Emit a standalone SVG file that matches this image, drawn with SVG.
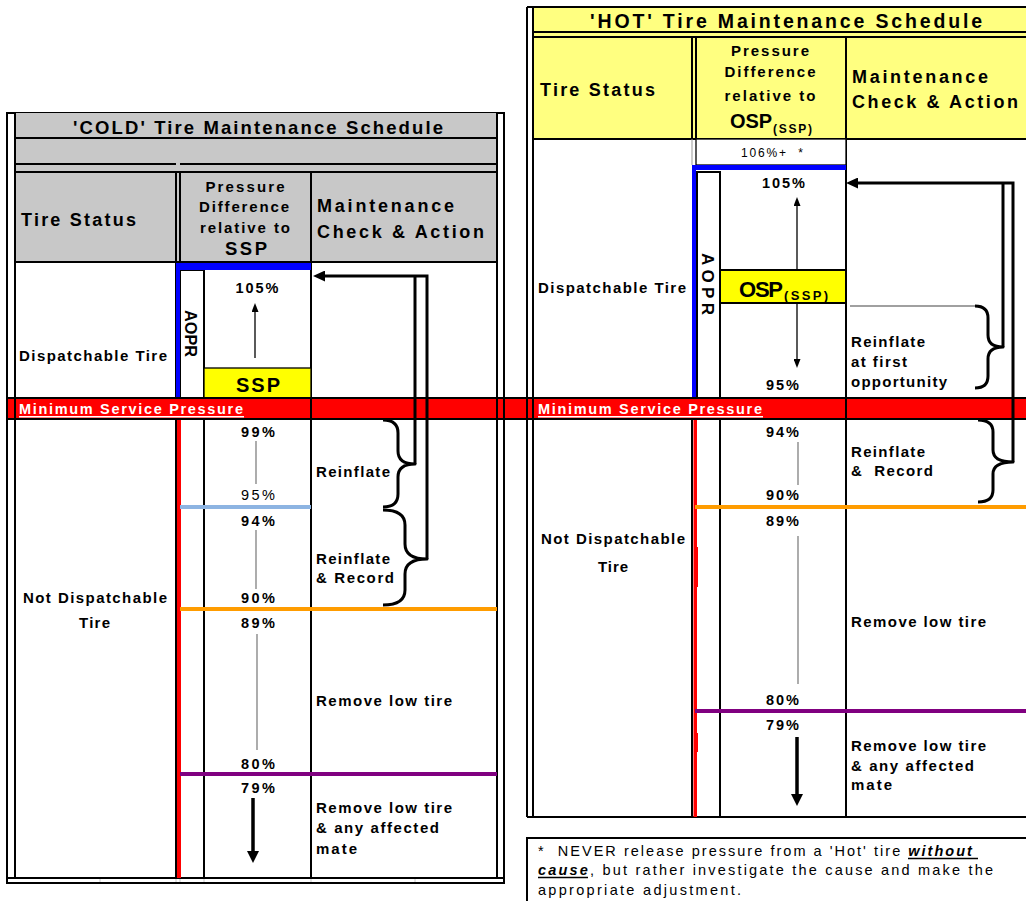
<svg xmlns="http://www.w3.org/2000/svg" width="1026" height="901" viewBox="0 0 1026 901">
<style>
text{font-family:"Liberation Sans",Arial,sans-serif;fill:#000}
.b{font-weight:bold}
.s14{font-size:14.5px}
.lb{font-size:15px;font-weight:bold}
.s17{font-size:18px}
.hp{font-size:15px;font-weight:bold}
.ln{stroke:#000;stroke-width:2}
.thin{stroke:#000;stroke-width:1.3}
.gray{stroke:#808080;stroke-width:1.3;fill:none}
.tick{stroke:#c8c8c8;stroke-width:1;fill:none}
.brace{stroke:#000;stroke-width:3;fill:none;stroke-linejoin:round}
.fb{stroke:#000;stroke-width:3;fill:none}
.ul{stroke:#000;stroke-width:1.4}
.ulw{stroke:#fff;stroke-width:1.6}
.msp{fill:#fff}
</style>
<defs>
<marker id="ahBig" viewBox="0 0 12 11" refX="0" refY="5.5" markerWidth="12" markerHeight="11" markerUnits="userSpaceOnUse" orient="auto"><path d="M0,0 L12,5.5 L0,11 z" fill="#000"/></marker>
<marker id="ahThin" viewBox="0 0 9 7" refX="0" refY="3.5" markerWidth="9" markerHeight="7" markerUnits="userSpaceOnUse" orient="auto"><path d="M0,0 L9,3.5 L0,7 z" fill="#000"/></marker>
<marker id="ahThick" viewBox="0 0 12 12" refX="0" refY="6" markerWidth="12" markerHeight="12" markerUnits="userSpaceOnUse" orient="auto"><path d="M0,0 L12,6 L0,12 z" fill="#000"/></marker>
</defs>
<rect width="1026" height="901" fill="#fff"/>

<!-- COLD table -->
<g id="cold-table">
<rect x="7" y="113" width="497" height="770" fill="#fff" class="ln"/>
<rect x="15" y="113" width="482" height="149" fill="#c8c8c8"/>
<line x1="15" y1="113" x2="15" y2="878" class="ln"/>
<line x1="497" y1="113" x2="497" y2="878" class="ln"/>
<line x1="15" y1="138" x2="497" y2="138" class="ln"/>
<line x1="15" y1="164" x2="176" y2="164" class="ln"/>
<line x1="180" y1="164" x2="497" y2="164" class="ln"/>
<line x1="15" y1="172" x2="497" y2="172" class="ln"/>
<line x1="15" y1="262" x2="497" y2="262" class="ln"/>
<line x1="176" y1="172" x2="176" y2="262" class="ln"/>
<line x1="180" y1="172" x2="180" y2="262" class="ln"/>
<line x1="311" y1="172" x2="311" y2="878" class="ln"/>
<line x1="7" y1="878" x2="504" y2="878" class="ln"/>
<g id="cold-ticks">
<line x1="100" y1="879" x2="100" y2="882" class="tick"/>
<line x1="176" y1="879" x2="176" y2="882" class="tick"/>
<line x1="180" y1="879" x2="180" y2="882" class="tick"/>
<line x1="204" y1="879" x2="204" y2="882" class="tick"/>
<line x1="311" y1="879" x2="311" y2="882" class="tick"/>
<line x1="415" y1="879" x2="415" y2="882" class="tick"/>
</g>
<text x="258" y="134" class="b" font-size="18.5" text-anchor="middle" textLength="370" lengthAdjust="spacing">'COLD' Tire Maintenance Schedule</text>
<text x="21" y="226" class="b s17" textLength="115" lengthAdjust="spacing">Tire Status</text>
<text x="245" y="192" class="hp" text-anchor="middle" textLength="79" lengthAdjust="spacing">Pressure</text>
<text x="244" y="212" class="hp" text-anchor="middle" textLength="90" lengthAdjust="spacing">Difference</text>
<text x="245" y="233" class="hp" text-anchor="middle" textLength="90" lengthAdjust="spacing">relative to</text>
<text x="246" y="255" class="b" font-size="18.5" text-anchor="middle" textLength="42" lengthAdjust="spacing">SSP</text>
<text x="317" y="212" class="b s17" textLength="137" lengthAdjust="spacing">Maintenance</text>
<text x="317" y="238" class="b s17" textLength="167" lengthAdjust="spacing">Check &amp; Action</text>

<g id="cold-dispatchable">
<line x1="176" y1="262" x2="176" y2="878" class="ln"/>
<rect x="180" y="270" width="24" height="128" fill="#fff" class="ln"/>
<line x1="204" y1="398" x2="204" y2="878" class="ln"/>
<rect x="176" y="263" width="135" height="7" fill="#0000ff"/>
<rect x="176" y="263" width="4" height="135" fill="#0000ff"/>
<rect x="204" y="368" width="107" height="30" fill="#ffff00" class="thin"/>
<text x="19" y="361" class="lb" textLength="148" lengthAdjust="spacing">Dispatchable Tire</text>
<text transform="translate(185,310) rotate(90)" class="b" font-size="17" textLength="47" lengthAdjust="spacingAndGlyphs">AOPR</text>
<text x="257" y="293" class="b s14" text-anchor="middle" textLength="43" lengthAdjust="spacing">105%</text>
<text x="258" y="392" class="b" font-size="20" text-anchor="middle" textLength="44" lengthAdjust="spacing">SSP</text>
</g>

<g id="cold-not-dispatchable">
<rect x="177" y="419" width="4" height="459" fill="#ff0000"/>
<line x1="256" y1="441" x2="256" y2="484" class="gray"/>
<line x1="256" y1="530" x2="256" y2="589" class="gray"/>
<line x1="257" y1="634" x2="257" y2="750" class="gray"/>
<line x1="180" y1="507" x2="311" y2="507" stroke="#8db4e2" stroke-width="4"/>
<line x1="180" y1="609" x2="497" y2="609" stroke="#ff9c00" stroke-width="4"/>
<line x1="180" y1="774" x2="497" y2="774" stroke="#800080" stroke-width="4"/>
<text x="258" y="437" class="b s14" text-anchor="middle" textLength="34" lengthAdjust="spacing">99%</text>
<text x="258" y="500" class="s14" text-anchor="middle" textLength="34" lengthAdjust="spacing">95%</text>
<text x="258" y="526" class="b s14" text-anchor="middle" textLength="34" lengthAdjust="spacing">94%</text>
<text x="258" y="603" class="b s14" text-anchor="middle" textLength="34" lengthAdjust="spacing">90%</text>
<text x="258" y="628" class="b s14" text-anchor="middle" textLength="34" lengthAdjust="spacing">89%</text>
<text x="258" y="769" class="b s14" text-anchor="middle" textLength="34" lengthAdjust="spacing">80%</text>
<text x="258" y="793" class="b s14" text-anchor="middle" textLength="34" lengthAdjust="spacing">79%</text>
<text x="316" y="477" class="lb" textLength="74" lengthAdjust="spacing">Reinflate</text>
<text x="316" y="564" class="lb" textLength="74" lengthAdjust="spacing">Reinflate</text>
<text x="316" y="583" class="lb" textLength="78" lengthAdjust="spacing">&amp; Record</text>
<text x="23" y="603" class="lb" textLength="144" lengthAdjust="spacing">Not Dispatchable</text>
<text x="79" y="628" class="lb" textLength="31" lengthAdjust="spacing">Tire</text>
<text x="316" y="706" class="lb" textLength="136" lengthAdjust="spacing">Remove low tire</text>
<text x="316" y="813" class="lb" textLength="136" lengthAdjust="spacing">Remove low tire</text>
<text x="316" y="833" class="lb" textLength="123" lengthAdjust="spacing">&amp; any affected</text>
<text x="316" y="854" class="lb" textLength="41" lengthAdjust="spacing">mate</text>
</g>
</g>

<!-- HOT table -->
<g id="hot-table">
<rect x="533" y="7" width="500" height="132" fill="#ffff80"/>
<line x1="527" y1="7" x2="527" y2="817" class="ln"/>
<line x1="533" y1="7" x2="533" y2="817" class="ln"/>
<line x1="527" y1="7" x2="1026" y2="7" class="ln"/>
<line x1="527" y1="817" x2="1026" y2="817" class="ln"/>
<line x1="533" y1="32" x2="1026" y2="32" class="ln"/>
<line x1="533" y1="37" x2="1026" y2="37" class="ln"/>
<line x1="533" y1="139" x2="1026" y2="139" class="ln"/>
<line x1="692" y1="37" x2="692" y2="139" class="ln"/>
<line x1="696" y1="37" x2="696" y2="139" class="ln"/>
<line x1="846" y1="37" x2="846" y2="817" class="ln"/>
<text x="786" y="28" class="b" font-size="19.5" text-anchor="middle" textLength="392" lengthAdjust="spacing">'HOT' Tire Maintenance Schedule</text>
<text x="540" y="96" class="b s17" textLength="115" lengthAdjust="spacing">Tire Status</text>
<text x="770" y="56" class="hp" text-anchor="middle" textLength="78" lengthAdjust="spacing">Pressure</text>
<text x="770" y="77" class="hp" text-anchor="middle" textLength="91" lengthAdjust="spacing">Difference</text>
<text x="770" y="101" class="hp" text-anchor="middle" textLength="91" lengthAdjust="spacing">relative to</text>
<text x="730" y="128" class="b" font-size="20" textLength="42" lengthAdjust="spacing">OSP</text>
<text x="773" y="133" class="b" font-size="12" textLength="39" lengthAdjust="spacing">(SSP)</text>
<text x="852" y="83" class="b s17" textLength="136" lengthAdjust="spacing">Maintenance</text>
<text x="852" y="108" class="b s17" textLength="166" lengthAdjust="spacing">Check &amp; Action</text>

<g id="hot-dispatchable">
<line x1="692" y1="139" x2="692" y2="165" stroke="#999" stroke-width="1"/>
<rect x="696" y="139" width="150" height="26" fill="#fff" class="thin"/>
<text x="741" y="157" font-size="12" textLength="62" lengthAdjust="spacing">106%+&#160; *</text>
<rect x="697" y="172" width="23" height="226" fill="#fff" class="ln"/>
<line x1="720" y1="398" x2="720" y2="817" class="ln"/>
<line x1="692" y1="398" x2="692" y2="817" class="ln"/>
<rect x="692" y="165" width="154" height="5" fill="#0000ff"/>
<rect x="692" y="165" width="4" height="233" fill="#0000ff"/>
<rect x="720" y="270" width="126" height="33" fill="#ffff00" class="ln"/>
<line x1="850" y1="306" x2="975" y2="306" class="gray"/>
<text x="538" y="293" class="lb" textLength="148" lengthAdjust="spacing">Dispatchable Tire</text>
<text transform="translate(702,253) rotate(90)" class="b" font-size="17" textLength="62" lengthAdjust="spacing">AOPR</text>
<text x="762" y="188" class="b s14" textLength="43" lengthAdjust="spacing">105%</text>
<text x="739" y="297" class="b" font-size="22" textLength="44" lengthAdjust="spacing">OSP</text>
<text x="784" y="300" class="b" font-size="13" textLength="44" lengthAdjust="spacing">(SSP)</text>
<text x="766" y="390" class="b s14" textLength="33" lengthAdjust="spacing">95%</text>
<text x="851" y="347" class="lb" textLength="74" lengthAdjust="spacing">Reinflate</text>
<text x="851" y="367" class="lb" textLength="56" lengthAdjust="spacing">at first</text>
<text x="851" y="387" class="lb" textLength="96" lengthAdjust="spacing">opportunity</text>
</g>

<g id="hot-not-dispatchable">
<rect x="693.5" y="419" width="3.5" height="398" fill="#ff0000"/>
<rect x="696" y="547" width="2" height="40" fill="#ff0000"/>
<rect x="696" y="733" width="2" height="19" fill="#ff0000"/>
<line x1="798" y1="442" x2="798" y2="485" class="gray"/>
<line x1="798" y1="536" x2="798" y2="684" class="gray"/>
<line x1="695" y1="507" x2="1026" y2="507" stroke="#ff9c00" stroke-width="4"/>
<line x1="695" y1="711" x2="1026" y2="711" stroke="#800080" stroke-width="4"/>
<text x="766" y="437" class="b s14" textLength="33" lengthAdjust="spacing">94%</text>
<text x="766" y="500" class="b s14" textLength="33" lengthAdjust="spacing">90%</text>
<text x="766" y="526" class="b s14" textLength="33" lengthAdjust="spacing">89%</text>
<text x="766" y="705" class="b s14" textLength="33" lengthAdjust="spacing">80%</text>
<text x="766" y="730" class="b s14" textLength="33" lengthAdjust="spacing">79%</text>
<text x="851" y="457" class="lb" textLength="74" lengthAdjust="spacing">Reinflate</text>
<text x="851" y="476" class="lb" textLength="82" lengthAdjust="spacing">&amp;&#160; Record</text>
<text x="541" y="544" class="lb" textLength="144" lengthAdjust="spacing">Not Dispatchable</text>
<text x="598" y="572" class="lb" textLength="30" lengthAdjust="spacing">Tire</text>
<text x="851" y="627" class="lb" textLength="135" lengthAdjust="spacing">Remove low tire</text>
<text x="851" y="751" class="lb" textLength="135" lengthAdjust="spacing">Remove low tire</text>
<text x="851" y="771" class="lb" textLength="123" lengthAdjust="spacing">&amp; any affected</text>
<text x="851" y="790" class="lb" textLength="41" lengthAdjust="spacing">mate</text>
</g>
</g>

<!-- Minimum Service Pressure bar -->
<g id="msp-bar">
<rect x="7" y="398" width="1019" height="21" fill="#ff0000"/>
<line x1="7" y1="398" x2="1026" y2="398" class="ln"/>
<line x1="7" y1="419" x2="1026" y2="419" class="ln"/>
<line x1="7" y1="398" x2="7" y2="419" class="ln"/>
<line x1="15" y1="398" x2="15" y2="419" class="ln"/>
<line x1="311" y1="398" x2="311" y2="419" class="ln"/>
<line x1="497" y1="398" x2="497" y2="419" class="ln"/>
<line x1="504" y1="398" x2="504" y2="419" class="ln"/>
<line x1="527" y1="398" x2="527" y2="419" class="ln"/>
<line x1="533" y1="398" x2="533" y2="419" class="ln"/>
<line x1="846" y1="398" x2="846" y2="419" class="ln"/>
<text x="19" y="414" class="b s14 msp" textLength="224" lengthAdjust="spacing">Minimum Service Pressure</text>
<line x1="19" y1="416.8" x2="244" y2="416.8" class="ulw"/>
<text x="538" y="414" class="b s14 msp" textLength="224" lengthAdjust="spacing">Minimum Service Pressure</text>
<line x1="538" y1="416.8" x2="763" y2="416.8" class="ulw"/>
</g>

<!-- footnote -->
<g id="footnote">
<rect x="527" y="838" width="520" height="80" fill="#fff" class="ln"/>
<text x="538" y="856" class="s14" textLength="440" lengthAdjust="spacing">*&#160; NEVER release pressure from a 'Hot' tire <tspan font-weight="bold" font-style="italic">without&#160;</tspan></text>
<line x1="908" y1="858.5" x2="978" y2="858.5" class="ul"/>
<text x="538" y="875" class="s14" textLength="455" lengthAdjust="spacing"><tspan font-weight="bold" font-style="italic">cause</tspan>, but rather investigate the cause and make the</text>
<line x1="538" y1="877.5" x2="588" y2="877.5" class="ul"/>
<text x="538" y="895" class="s14" textLength="203" lengthAdjust="spacing">appropriate adjustment.</text>
</g>

<!-- connectors -->
<g id="connectors">
<path d="M255,358 L255,312" class="thin" fill="none" marker-end="url(#ahThin)"/>
<path d="M797,270 L797,206" class="thin" fill="none" marker-end="url(#ahThin)"/>
<path d="M797,303 L797,359" class="thin" fill="none" marker-end="url(#ahThin)"/>
<path d="M253,798 L253,851" stroke="#000" stroke-width="3.5" marker-end="url(#ahThick)"/>
<path d="M797,737 L797,794" stroke="#000" stroke-width="3.5" marker-end="url(#ahThick)"/>
<path d="M383,420 Q398,420 398,433 L398,451 Q398,464 415,464 Q398,464 398,477 L398,494 Q398,507 383,507" class="brace"/>
<path d="M383,510 Q405,510 405,525 L405,544 Q405,559 427,559 Q405,559 405,574 L405,590 Q405,605 383,605" class="brace"/>
<path d="M415,464 L415,276" class="fb"/>
<path d="M427,559 L427,276 L325,276" class="fb" marker-end="url(#ahBig)"/>
<path d="M975,306 Q988,306 988,318 L988,335 Q988,347 1003,347 Q988,347 988,359 L988,376 Q988,388 975,388" class="brace"/>
<path d="M978,420 Q993,420 993,432 L993,450 Q993,462 1013,462 Q993,462 993,474 L993,490 Q993,502 978,502" class="brace"/>
<path d="M1003,347 L1003,183" class="fb"/>
<path d="M1013,462 L1013,183 L858,183" class="fb" marker-end="url(#ahBig)"/>
</g>
</svg>
